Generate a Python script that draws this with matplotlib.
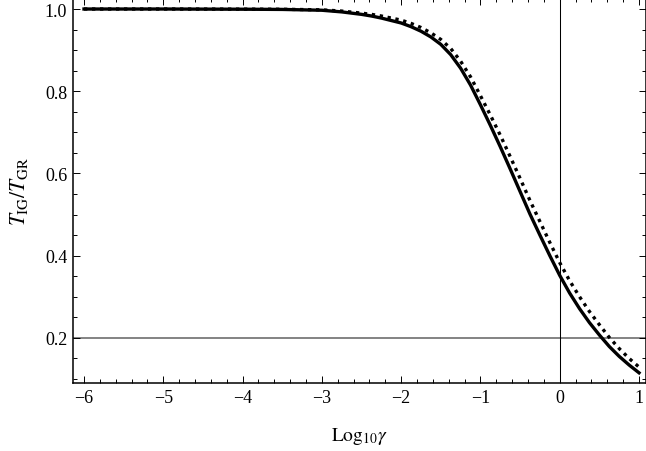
import numpy as np
import matplotlib
matplotlib.use('Agg')
import matplotlib.pyplot as plt
from matplotlib.ticker import MultipleLocator

plt.rcParams['font.family'] = ['Liberation Serif', 'DejaVu Serif']
plt.rcParams['mathtext.fontset'] = 'stix'

# log10(gamma) sample points
log_gamma = [-6.0, -5.0, -4.0, -3.5, -3.0, -2.75,
             -2.5, -2.375, -2.25, -2.125, -2.0, -1.875, -1.75, -1.625,
             -1.5, -1.375, -1.25, -1.125, -1.0, -0.875, -0.75, -0.625,
             -0.5, -0.375, -0.25, -0.125, 0.0, 0.125, 0.25, 0.375,
             0.5, 0.625, 0.75, 0.875, 1.0]
# solid curve
ratio_solid = [1.0, 1.0, 0.9995, 0.999, 0.997, 0.993,
               0.987, 0.983, 0.978, 0.972, 0.966, 0.957, 0.946, 0.932,
               0.914, 0.889, 0.856, 0.815, 0.767, 0.717, 0.665, 0.611,
               0.556, 0.501, 0.450, 0.400, 0.352, 0.309, 0.271, 0.237,
               0.207, 0.179, 0.155, 0.134, 0.115]
# dotted curve
ratio_dotted = [1.0, 1.0, 0.9997, 0.9994, 0.998, 0.995,
                0.990, 0.987, 0.983, 0.978, 0.973, 0.965, 0.955, 0.942,
                0.926, 0.904, 0.873, 0.835, 0.789, 0.742, 0.693, 0.641,
                0.588, 0.534, 0.483, 0.432, 0.383, 0.339, 0.300, 0.264,
                0.232, 0.201, 0.174, 0.150, 0.129]

hline_y = 0.2
vline_x = 0.0


def main():
    fig = plt.figure(figsize=(6.46, 4.52), dpi=100)
    ax = fig.add_axes([72.7 / 646, 68 / 452, (646 - 72.7) / 646, 385 / 452])

    ax.axhline(hline_y, color='#6e6e6e', lw=1.2, zorder=1)
    ax.axvline(vline_x, color='black', lw=0.75, zorder=1)

    ax.plot(log_gamma, ratio_solid, color='black', lw=2.4, zorder=3,
            solid_joinstyle='round')
    ax.plot(log_gamma, ratio_dotted, color='black', lw=2.4, zorder=3,
            linestyle=(0, (1, 1.4)), dash_capstyle='butt')

    ax.set_xlim(-6.1425, 1.088)
    ax.set_ylim(0.0902, 1.0268)

    ax.xaxis.set_major_locator(MultipleLocator(1))
    ax.xaxis.set_minor_locator(MultipleLocator(0.2))
    ax.yaxis.set_minor_locator(MultipleLocator(0.05))
    ax.set_yticks([0.2, 0.4, 0.6, 0.8, 1.0])
    ax.set_yticklabels(['0.2', '0.4', '0.6', '0.8', '1.0'])

    ax.tick_params(which='both', direction='in', top=True, right=True,
                   labelsize=13, width=0.7, color='black')
    ax.tick_params(which='major', length=4.8, pad=4)
    ax.tick_params(which='minor', length=2.8)

    for s in ax.spines.values():
        s.set_linewidth(1.1)

    ax.set_xlabel(r'$\mathrm{Log}_{10}\gamma$', fontsize=14)
    ax.set_ylabel(r'$T_{\mathrm{IG}}/T_{\mathrm{GR}}$', fontsize=15.5)
    ax.xaxis.set_label_coords(0.5, -0.108)
    ax.yaxis.set_label_coords(-0.075, 0.5)

    fig.savefig('out.png', dpi=100)


if __name__ == '__main__':
    main()
